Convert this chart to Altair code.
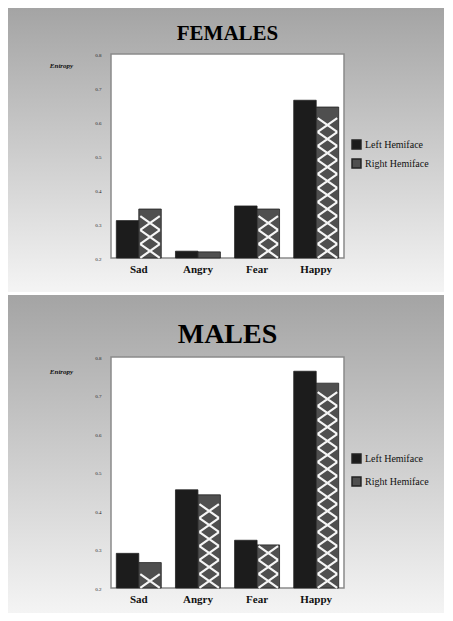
import altair as alt
import pandas as pd

categories = ["Sad", "Angry", "Fear", "Happy"]
groups = ["Left Hemiface", "Right Hemiface"]
female_left = [0.31, 0.22, 0.353, 0.664]
female_right = [0.344, 0.218, 0.344, 0.644]
male_left = [0.29, 0.455, 0.324, 0.763]
male_right = [0.266, 0.442, 0.312, 0.732]
y_ticks = [0.2, 0.3, 0.4, 0.5, 0.6, 0.7, 0.8]
y_domain = [0.2, 0.8]

SERIF = "Liberation Serif"
PW = 233


def pattern_points(right, h):
    step = 14 / (h / (y_domain[1] - y_domain[0]))
    rows = []
    for c, v in zip(categories, right):
        k = 0
        while y_domain[0] + (k + 1) * step <= v + 1e-9:
            rows.append({"cat": c, "grp": groups[1], "pos": y_domain[0] + (k + 0.5) * step})
            k += 1
    return pd.DataFrame(rows)


def panel(title, left, right, h, tsize, ty, legend_y, row_pad, rtop, rbot):
    df = pd.DataFrame({
        "cat": categories * 2,
        "grp": [groups[0]] * 4 + [groups[1]] * 4,
        "val": left + right,
    })
    xaxis = alt.Axis(title=None, labelAngle=0, labelFont=SERIF, labelFontSize=11,
                     labelFontWeight="bold", labelColor="#111", ticks=False,
                     domain=False, labelPadding=5, zindex=1)
    yaxis = alt.Axis(values=y_ticks, format=".1f", title="Entropy", titleAngle=0,
                     titleX=-50, titleY=ty, titleAlign="center", titleBaseline="middle",
                     titleFont=SERIF, titleFontSize=7, titleFontStyle="italic",
                     titleFontWeight="bold", titleColor="#111",
                     labelFont=SERIF, labelFontSize=5, labelColor="#222",
                     labelOverlap=False, labelFlush=False, tickCount=7,
                     labelPadding=10, ticks=False, domain=False, grid=False, zindex=1)
    xscale = alt.Scale(paddingInner=0.24, paddingOuter=0.09)
    xoff = alt.XOffset("grp:N", scale=alt.Scale(domain=groups, paddingInner=0, paddingOuter=0))
    yscale = alt.Scale(domain=y_domain, zero=False, nice=False)

    one = pd.DataFrame({"a": [0]})
    bg = alt.Chart(one).mark_rect(
        fill=alt.LinearGradient(gradient="linear", x1=0, x2=0, y1=0, y2=1,
                                stops=[alt.GradientStop(color="#a4a4a4", offset=0),
                                       alt.GradientStop(color="#f4f4f4", offset=1)])
    ).encode(x=alt.value(-103), x2=alt.value(333), y=alt.value(rtop), y2=alt.value(rbot))

    plotbg = alt.Chart(one).mark_rect(
        fill="white", stroke="#8a8a8a", strokeWidth=1.5
    ).encode(x=alt.value(0), x2=alt.value(PW), y=alt.value(0), y2=alt.value(h))

    ttl = alt.Chart(one).mark_text(
        text=title, font=SERIF, fontSize=tsize, fontWeight="bold", color="black",
        align="center", baseline="alphabetic"
    ).encode(x=alt.value(PW / 2), y=alt.value(-14))

    bars = alt.Chart(df).mark_bar(stroke="#222", strokeWidth=0.8).encode(
        x=alt.X("cat:N", sort=categories, scale=xscale, axis=xaxis),
        xOffset=xoff,
        y=alt.Y("val:Q", scale=yscale, axis=yaxis),
        y2=alt.datum(y_domain[0]),
        color=alt.Color("grp:N", scale=alt.Scale(domain=groups, range=["#1c1c1c", "#4f4f4f"]),
                        legend=alt.Legend(orient="none", legendX=240, legendY=legend_y, title=None,
                                          labelFont=SERIF, labelFontSize=10, labelColor="#111",
                                          symbolType="square", symbolSize=80, rowPadding=row_pad,
                                          symbolStrokeColor="#222", labelOffset=3, zindex=1)),
    )

    pat = alt.Chart(pattern_points(right, h)).mark_point(
        shape="M-1,-0.7L1,0.7M-1,0.7L1,-0.7", filled=False, stroke="white",
        strokeWidth=2.2, size=380, opacity=0.95
    ).encode(x=alt.X("cat:N", sort=categories, scale=xscale, axis=xaxis),
             xOffset=xoff,
             y=alt.Y("pos:Q", scale=yscale, axis=yaxis))

    return alt.layer(bg, plotbg, ttl, bars, pat).properties(width=PW, height=h)


top = panel("FEMALES", female_left, female_right, 204, 21, 11, 85, 4, -46, 238)
bottom = panel("MALES", male_left, male_right, 231, 28, 14, 96, 8, -62, 256)

chart = alt.vconcat(top, bottom, spacing=3).resolve_scale(
    color="independent", x="independent", y="independent", xOffset="independent"
).resolve_legend(color="independent").configure_view(stroke=None).properties(
    padding=0, background="white"
)

chart.save("out.html", embed_options={"renderer": "svg", "actions": False})
